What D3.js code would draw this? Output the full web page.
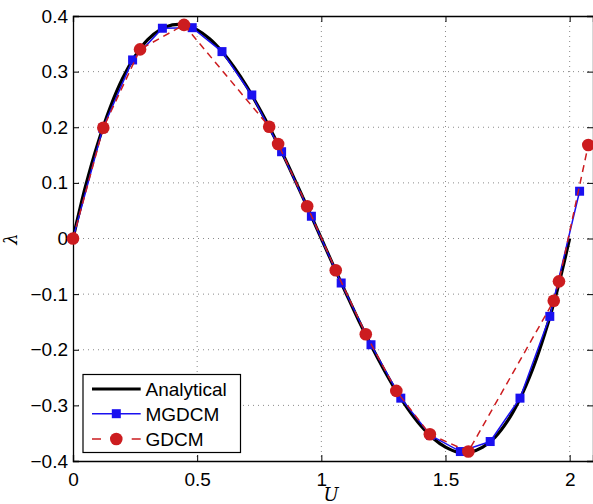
<!DOCTYPE html>
<html>
<head>
<meta charset="utf-8">
<script src="https://cdn.jsdelivr.net/npm/d3@7"></script>
<style>
	body { margin: 0; background: #fff; }
	svg { display: block; font-family: 'Liberation Sans', Arial, sans-serif; }
</style>
</head>
<body>
<div id="chart"></div>
<script>
// values
var analytical_u = [0, 0.05, 0.1, 0.15, 0.2, 0.25, 0.3, 0.35, 0.4, 0.45, 0.5, 0.55, 0.6, 0.65, 0.7, 0.75, 0.8, 0.85, 0.9, 0.95,
	1.0, 1.05, 1.1, 1.15, 1.2, 1.25, 1.3, 1.35, 1.4, 1.45, 1.5, 1.55, 1.6, 1.65, 1.7, 1.75, 1.8, 1.85, 1.9, 1.95, 2.0];
var analytical_l = [0, 0.093, 0.171, 0.236, 0.288, 0.328, 0.357, 0.375, 0.384, 0.384, 0.375, 0.359, 0.336, 0.307, 0.273, 0.234, 0.192, 0.147, 0.099, 0.050,
	0, -0.050, -0.099, -0.147, -0.192, -0.234, -0.273, -0.307, -0.336, -0.359, -0.375, -0.384, -0.384, -0.375, -0.357, -0.328, -0.288, -0.236, -0.171, -0.093, 0];

var mgdcm_u = [0, 0.12, 0.24, 0.36, 0.48, 0.6, 0.72, 0.84, 0.96, 1.08, 1.2, 1.32, 1.44, 1.56, 1.68, 1.8, 1.92, 2.04];
var mgdcm_l = [0, 0.198, 0.321, 0.378, 0.379, 0.336, 0.258, 0.156, 0.040, -0.080, -0.191, -0.287, -0.354, -0.383, -0.365, -0.287, -0.140, 0.085];

var gdcm_u = [0, 0.122, 0.27, 0.447, 0.79, 0.826, 0.943, 1.058, 1.179, 1.302, 1.437, 1.592, 1.936, 1.957, 2.075];
var gdcm_l = [0, 0.199, 0.340, 0.384, 0.201, 0.170, 0.058, -0.057, -0.172, -0.274, -0.352, -0.383, -0.112, -0.077, 0.168];

var x_ticks = [0, 0.5, 1, 1.5, 2];
var y_ticks = [-0.4, -0.3, -0.2, -0.1, 0, 0.1, 0.2, 0.3, 0.4];
var legend_names = ['Analytical', 'MGDCM', 'GDCM'];

var fmt = {
	left: 73, right: 593, top: 16, bottom: 461,
	font: "'Liberation Sans', Arial, sans-serif",
	font_size: 19,
	clr_blue: '#1a10f0',
	clr_red: '#cc1c1f',
	clr_grid: '#8a8a8a'
};

var width = 593, height = 504;
var svg = d3.select('#chart').append('svg')
	.attr('width', width)
	.attr('height', height);

var xScale = d3.scaleLinear().domain([0, 2.094]).range([fmt.left, fmt.right]);
var yScale = d3.scaleLinear().domain([-0.4, 0.4]).range([fmt.bottom, fmt.top]);

// grid
svg.append('g').selectAll('line')
	.data(x_ticks.slice(1))
	.join('line')
	.attr('x1', d => xScale(d)).attr('x2', d => xScale(d))
	.attr('y1', fmt.top).attr('y2', fmt.bottom)
	.attr('stroke', fmt.clr_grid).attr('stroke-width', 1)
	.attr('stroke-dasharray', '1,4');
svg.append('g').selectAll('line')
	.data(y_ticks.slice(1, -1))
	.join('line')
	.attr('x1', fmt.left).attr('x2', fmt.right)
	.attr('y1', d => yScale(d)).attr('y2', d => yScale(d))
	.attr('stroke', fmt.clr_grid).attr('stroke-width', 1)
	.attr('stroke-dasharray', '1,4');

// axes (ticks inward)
var minus = s => s.replace('-', '\u2212');
var style_text = g => g.selectAll('text')
	.attr('font-size', fmt.font_size).attr('fill', '#000').attr('font-family', fmt.font);
svg.append('g')
	.attr('transform', `translate(0,${fmt.bottom})`)
	.call(d3.axisBottom(xScale).tickValues(x_ticks).tickSize(-6).tickPadding(11.5)
		.tickFormat(d => String(d)))
	.call(style_text);
svg.append('g')
	.attr('transform', `translate(${fmt.left},0)`)
	.call(d3.axisLeft(yScale).tickValues(y_ticks).tickSize(-6).tickPadding(5)
		.tickFormat(d => minus(d === 0 ? '0' : d.toFixed(1))))
	.call(style_text);
svg.append('g')
	.attr('transform', `translate(0,${fmt.top})`)
	.call(d3.axisTop(xScale).tickValues(x_ticks).tickSize(-6).tickFormat(''));
svg.append('g')
	.attr('transform', `translate(${fmt.right},0)`)
	.call(d3.axisRight(yScale).tickValues(y_ticks).tickSize(-6).tickFormat(''));
svg.selectAll('.domain').attr('stroke', '#000').attr('stroke-width', 1.3);
svg.selectAll('.tick line').attr('stroke', '#000');

// axis labels
svg.append('text')
	.attr('x', 331).attr('y', 501)
	.attr('font-family', "'DejaVu Serif', serif").attr('font-style', 'italic')
	.attr('font-size', 18).attr('text-anchor', 'middle')
	.text('U');
svg.append('text')
	.attr('transform', 'translate(17,239) rotate(-90)')
	.attr('font-family', "'DejaVu Serif', serif").attr('font-style', 'italic')
	.attr('font-size', 18).attr('text-anchor', 'middle')
	.text('\u03bb');

// data
var line = d3.line().x(d => xScale(d[0])).y(d => yScale(d[1]));
var analytical = d3.zip(analytical_u, analytical_l);
var mgdcm = d3.zip(mgdcm_u, mgdcm_l);
var gdcm = d3.zip(gdcm_u, gdcm_l);

svg.append('path')
	.datum(analytical)
	.attr('d', line.curve(d3.curveCatmullRom))
	.attr('fill', 'none').attr('stroke', '#000').attr('stroke-width', 3.2);

line.curve(d3.curveLinear);
svg.append('path')
	.datum(mgdcm)
	.attr('d', line)
	.attr('fill', 'none').attr('stroke', fmt.clr_blue).attr('stroke-width', 1.5);
svg.append('g').selectAll('rect')
	.data(mgdcm)
	.join('rect')
	.attr('x', d => xScale(d[0]) - 4.5).attr('y', d => yScale(d[1]) - 4.5)
	.attr('width', 9).attr('height', 9)
	.attr('fill', fmt.clr_blue);

svg.append('path')
	.datum(gdcm)
	.attr('d', line)
	.attr('fill', 'none').attr('stroke', fmt.clr_red).attr('stroke-width', 1.5)
	.attr('stroke-dasharray', '7,5');
svg.append('g').selectAll('circle')
	.data(gdcm)
	.join('circle')
	.attr('cx', d => xScale(d[0])).attr('cy', d => yScale(d[1]))
	.attr('r', 6.3)
	.attr('fill', fmt.clr_red);

// legend
var lg = svg.append('g');
lg.append('rect')
	.attr('x', 83).attr('y', 374.5).attr('width', 157.5).attr('height', 78)
	.attr('fill', '#fff').attr('stroke', '#000').attr('stroke-width', 1.2);
var rows = [389, 413.7, 439];
legend_names.forEach(function(name, i) {
	var y = rows[i];
	var l = lg.append('line')
		.attr('x1', 92).attr('x2', 140.7).attr('y1', y).attr('y2', y);
	if (i === 0) l.attr('stroke', '#000').attr('stroke-width', 3.2);
	if (i === 1) {
		l.attr('stroke', fmt.clr_blue).attr('stroke-width', 1.5);
		lg.append('rect').attr('x', 111.8).attr('y', y - 4.5).attr('width', 9).attr('height', 9).attr('fill', fmt.clr_blue);
	}
	if (i === 2) {
		l.attr('stroke', fmt.clr_red).attr('stroke-width', 1.5).attr('stroke-dasharray', '9,30.7,9');
		lg.append('circle').attr('cx', 116.3).attr('cy', y).attr('r', 6.3).attr('fill', fmt.clr_red);
	}
	lg.append('text')
		.attr('x', 145.5).attr('y', y + 7)
		.attr('font-size', fmt.font_size)
		.attr('font-family', fmt.font)
		.text(name);
});
</script>
</body>
</html>
